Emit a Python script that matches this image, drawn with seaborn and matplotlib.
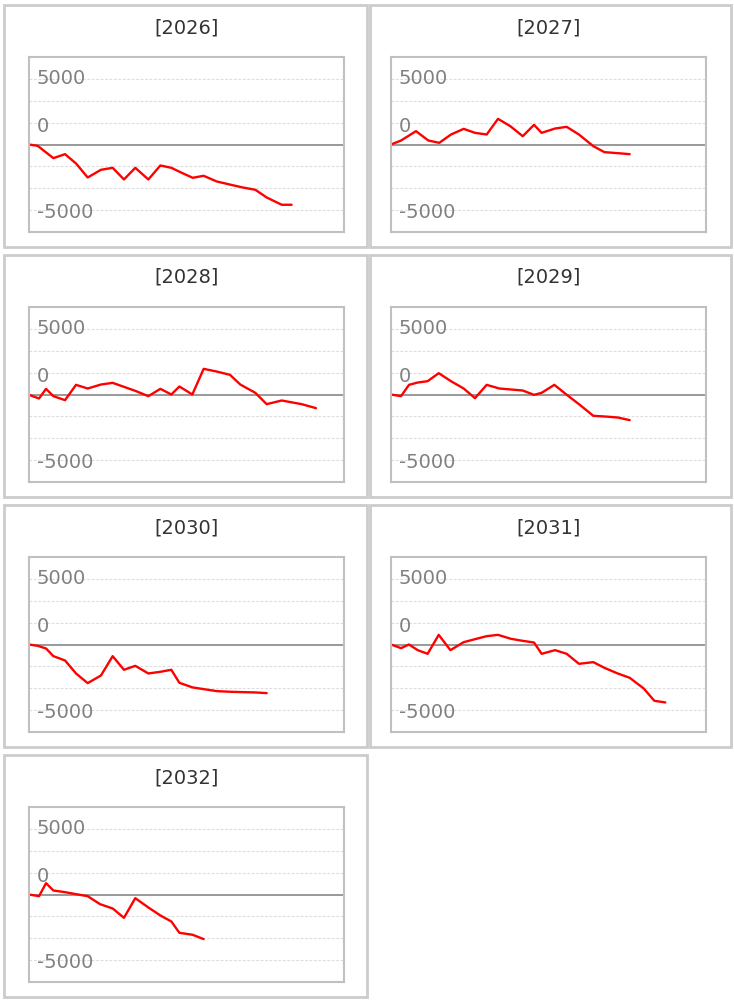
import numpy as np
import pandas as pd
import seaborn as sns
import matplotlib.pyplot as plt
import matplotlib.transforms as mtransforms
from matplotlib.patches import Rectangle

years = ['2026', '2027', '2028', '2029', '2030', '2031', '2032']

x_2026 = [0, 0.74, 2.09, 3.09, 4.03, 5.03, 6.17, 7.17, 8.14, 9.11, 10.23, 11.26,
          12.2, 13.09, 14.03, 14.97, 16.09, 17.31, 18.31, 19.4, 20.37, 21.66, 22.51]
v_2026 = [0, -101, -1040, -736, -1446, -2512, -1928, -1776, -2664, -1776, -2664, -1598,
          -1776, -2156, -2537, -2385, -2816, -3070, -3273, -3450, -4034, -4592, -4592]

x_2027 = [0, 0.86, 2.14, 3.2, 4.14, 5.14, 6.23, 7.2, 8.2, 9.17, 10.23, 11.29,
          12.26, 12.91, 14.06, 15.06, 16.11, 17.34, 18.29, 19.43, 20.46]
v_2027 = [0, 304, 1015, 304, 127, 761, 1192, 888, 761, 1954, 1395, 634,
          1497, 888, 1217, 1344, 761, -127, -583, -660, -736]

x_2028 = [0, 0.86, 1.46, 2.09, 3.09, 4.03, 5.03, 6.17, 7.17, 8.14, 9.11, 10.23, 11.26,
          12.2, 12.89, 14.0, 14.97, 16.09, 17.23, 18.11, 19.4, 20.37, 21.66, 23.37, 24.6]
v_2028 = [-25, -304, 431, -127, -431, 736, 457, 761, 888, 583, 279, -127, 431,
          0, 609, 0, 1954, 1751, 1497, 761, 127, -736, -457, -736, -1040]

x_2029 = [0, 0.86, 1.54, 2.29, 3.14, 4.09, 5.14, 6.23, 7.2, 8.2, 9.29, 10.29,
          11.29, 12.26, 12.91, 14.0, 15.14, 16.11, 17.34, 18.29, 19.43, 20.46]
v_2029 = [0, -127, 736, 913, 1015, 1624, 1015, 457, -279, 736, 457, 381,
          304, -25, 127, 736, -76, -736, -1624, -1674, -1751, -1954]

x_2030 = [0, 0.74, 1.46, 2.09, 3.09, 4.03, 5.03, 6.17, 7.17, 8.14, 9.11, 10.23,
          11.26, 12.2, 12.89, 14.03, 14.97, 16.09, 17.31, 18.31, 19.4, 20.37]
v_2030 = [0, -101, -304, -888, -1218, -2207, -2943, -2359, -888, -1928, -1624, -2207,
          -2080, -1928, -2918, -3273, -3400, -3552, -3603, -3628, -3653, -3704]

x_2031 = [0, 0.86, 1.54, 2.29, 3.14, 4.09, 5.09, 6.23, 7.2, 8.2, 9.17, 10.29, 11.29,
          12.26, 12.91, 14.06, 15.06, 16.11, 17.34, 18.29, 19.43, 20.46, 21.66, 22.57, 23.51]
v_2031 = [0, -279, 0, -431, -710, 736, -431, 178, 406, 634, 736, 431, 279,
          152, -710, -431, -710, -1471, -1344, -1776, -2207, -2537, -3349, -4288, -4414]

x_2032 = [0, 0.86, 1.46, 2.09, 3.09, 4.03, 5.03, 6.09, 7.17, 8.14, 9.11, 10.23,
          11.26, 12.2, 12.89, 14.03, 14.97]
v_2032 = [0, -127, 863, 304, 178, 25, -127, -736, -1065, -1776, -279, -989,
          -1598, -2055, -2918, -3070, -3400]

ytick_values = [5000, 0, -5000]
ytick_labels = ['5000', '0', '-5000']

series = {
    '2026': (x_2026, v_2026), '2027': (x_2027, v_2027), '2028': (x_2028, v_2028),
    '2029': (x_2029, v_2029), '2030': (x_2030, v_2030), '2031': (x_2031, v_2031),
    '2032': (x_2032, v_2032),
}
df = pd.concat([pd.DataFrame({'year': y, 'x': series[y][0], 'value': series[y][1]})
                for y in years], ignore_index=True)

sns.set_theme(style='white')
plt.rcParams['font.family'] = ['DejaVu Sans']

W, H = 734, 1002
fig = plt.figure(figsize=(W / 100, H / 100), dpi=100)
fig.patch.set_facecolor('white')

panel_left = [4, 370]
panel_width = [363, 361]
plot_left = [29, 391]
row_top = [5, 255, 505, 755]
panel_h = 242
plot_w, plot_h = 315, 175
plot_top_off = 52
label_y = {5000: 5040, 0: 1370, -5000: -5180}
step = 5000 / 3

for i, year in enumerate(years):
    r, c = divmod(i, 2)
    top = row_top[r]
    fig.add_artist(Rectangle((panel_left[c] / W, 1 - (top + panel_h) / H),
                             panel_width[c] / W, panel_h / H,
                             transform=fig.transFigure, fill=False,
                             edgecolor='#cccccc', linewidth=2))
    ax = fig.add_axes([plot_left[c] / W, 1 - (top + plot_top_off + plot_h) / H,
                       plot_w / W, plot_h / H])
    sub = df[df['year'] == year]
    sns.lineplot(data=sub, x='x', y='value', ax=ax, color='#ff0000',
                 linewidth=1.7, estimator=None, sort=False)
    ax.set_xlim(0, 27)
    ax.set_ylim(-4 * step, 4 * step)
    ax.set_yticks([k * step for k in range(-3, 4) if k != 0])
    ax.set_xticks([])
    ax.grid(axis='y', color='#dddddd', linestyle=(0, (2.5, 1.5)), linewidth=0.8)
    ax.tick_params(left=False, labelleft=False, bottom=False)
    ax.axhline(0, color='#888888', linewidth=1.2, zorder=1)
    for sp in ax.spines.values():
        sp.set_color('#c0c0c0')
        sp.set_linewidth(1.5)
    ax.set_xlabel('')
    ax.set_ylabel('')
    trans = mtransforms.blended_transform_factory(ax.transAxes, ax.transData)
    for val, lab in zip(ytick_values, ytick_labels):
        ax.text(0.024, label_y[val], lab, transform=trans, ha='left', va='center',
                fontsize=14, color='#808080')
    fig.text((plot_left[c] + plot_w / 2) / W, 1 - (top + 22.5) / H, f'[{year}]',
             ha='center', va='center', fontsize=14, color='#333333')

fig.savefig('out.png', dpi=100)
